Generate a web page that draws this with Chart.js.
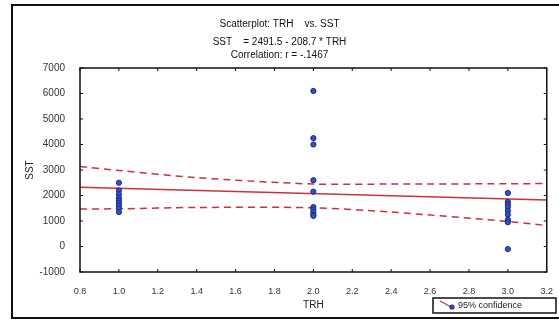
<!DOCTYPE html>
<html>
<head>
<meta charset="utf-8">
<script src="https://cdn.jsdelivr.net/npm/chart.js@4"></script>
<style>
  html, body { margin: 0; padding: 0; background: #fff; }
  canvas { display: block; }
</style>
</head>
<body>
<canvas id="scatterChart" width="559" height="321"></canvas>
<script>
const trhValues = [1.0, 1.0, 1.0, 1.0, 1.0, 1.0, 1.0, 1.0, 1.0,
                   2.0, 2.0, 2.0, 2.0, 2.0, 2.0, 2.0, 2.0, 2.0, 2.0,
                   3.0, 3.0, 3.0, 3.0, 3.0, 3.0, 3.0, 3.0, 3.0];
const sstValues = [2500, 2200, 2050, 1900, 1800, 1700, 1600, 1500, 1350,
                   6100, 4250, 4000, 2600, 2150, 1550, 1450, 1350, 1250, 1200,
                   2100, 1750, 1650, 1550, 1400, 1250, 1050, 950, -100];

// fitted line: SST = 2491.5 - 208.7 * TRH
const fitX = [0.8, 3.2];
const fitY = [2325, 1824];

// 95% confidence bands
const bandX = [0.8, 1.0, 1.4, 2.0, 2.4, 3.0, 3.2];
const upperBand = [3140, 2980, 2700, 2450, 2450, 2460, 2470];
const lowerBand = [1470, 1480, 1530, 1520, 1350, 980, 820];

const titleText = 'Scatterplot: TRH    vs. SST';
const subtitleLines = ['SST    = 2491.5 - 208.7 * TRH', 'Correlation: r = -.1467'];
const legendText = '95% confidence';

const FONT = "'Liberation Sans', Arial, sans-serif";
const RED = '#c8323c';
const zip = (xs, ys) => xs.map((x, i) => ({ x, y: ys[i] }));

// frame, plot box, inner tick marks and legend box
const framePlugin = {
    id: 'frame',
    afterDraw(chart) {
        const { ctx, chartArea: a, scales } = chart;
        ctx.save();
        ctx.strokeStyle = '#111';
        ctx.lineWidth = 2;
        ctx.strokeRect(12, 5, 600, 313);

        ctx.lineWidth = 1.5;
        ctx.strokeRect(a.left, a.top, a.right - a.left, a.bottom - a.top);

        ctx.lineWidth = 1;
        ctx.beginPath();
        scales.x.ticks.forEach(t => {
            const px = scales.x.getPixelForValue(t.value);
            ctx.moveTo(px, a.bottom); ctx.lineTo(px, a.bottom - 3);
            ctx.moveTo(px, a.top); ctx.lineTo(px, a.top + 3);
        });
        scales.y.ticks.forEach(t => {
            const py = scales.y.getPixelForValue(t.value);
            ctx.moveTo(a.left, py); ctx.lineTo(a.left + 3, py);
            ctx.moveTo(a.right, py); ctx.lineTo(a.right - 3, py);
        });
        ctx.stroke();

        // legend
        const lx = 433, ly = 298, lw = 123, lh = 15;
        ctx.lineWidth = 1.5;
        ctx.strokeStyle = '#111';
        ctx.strokeRect(lx, ly, lw, lh);
        ctx.strokeStyle = RED;
        ctx.lineWidth = 1.2;
        ctx.beginPath();
        ctx.moveTo(lx + 7, ly + 3);
        ctx.lineTo(lx + 20, ly + 10);
        ctx.stroke();
        ctx.fillStyle = '#3050d0';
        ctx.strokeStyle = '#1c2a8a';
        ctx.beginPath();
        ctx.arc(lx + 19, ly + 9, 2, 0, Math.PI * 2);
        ctx.fill(); ctx.stroke();
        ctx.fillStyle = '#222';
        ctx.font = '9px ' + FONT;
        ctx.textBaseline = 'middle';
        ctx.fillText(legendText, lx + 25, ly + lh / 2 + 0.5);
        ctx.restore();
    }
};

const ctx = document.getElementById('scatterChart').getContext('2d');
new Chart(ctx, {
    type: 'scatter',
    data: {
        datasets: [
            {
                label: 'SST',
                data: zip(trhValues, sstValues),
                pointRadius: 2.6,
                backgroundColor: '#3050d0',
                borderColor: '#1c2a8a',
                borderWidth: 1
            },
            {
                label: 'fit',
                type: 'line',
                data: zip(fitX, fitY),
                borderColor: RED,
                borderWidth: 1.5,
                pointRadius: 0,
                fill: false
            },
            {
                label: 'upper',
                type: 'line',
                data: zip(bandX, upperBand),
                borderColor: RED,
                borderWidth: 1.5,
                borderDash: [7, 5],
                pointRadius: 0,
                tension: 0.3,
                fill: false
            },
            {
                label: 'lower',
                type: 'line',
                data: zip(bandX, lowerBand),
                borderColor: RED,
                borderWidth: 1.5,
                borderDash: [7, 5],
                pointRadius: 0,
                tension: 0.3,
                fill: false
            }
        ]
    },
    options: {
        responsive: false,
        animation: false,
        layout: { padding: { left: 8, right: 8, top: 0, bottom: 0 } },
        plugins: {
            legend: { display: false },
            tooltip: { enabled: false },
            title: {
                display: true,
                text: titleText,
                color: '#111',
                font: { family: FONT, size: 10, weight: 'normal', lineHeight: 1.2 },
                padding: { top: 18, bottom: 0 }
            },
            subtitle: {
                display: true,
                text: subtitleLines,
                color: '#111',
                font: { family: FONT, size: 10, weight: 'normal', lineHeight: 1.3 },
                padding: { top: 5.5, bottom: 6.5 }
            }
        },
        scales: {
            x: {
                type: 'linear',
                min: 0.8,
                max: 3.2,
                afterFit: s => { s.height = 49; },
                grid: { display: false },
                border: { display: false },
                ticks: {
                    stepSize: 0.2,
                    padding: 6,
                    color: '#333',
                    font: { family: FONT, size: 9 },
                    maxRotation: 0,
                    callback: v => Number(v).toFixed(1)
                },
                title: {
                    display: true,
                    text: 'TRH',
                    color: '#222',
                    font: { family: FONT, size: 10 },
                    padding: { top: 0, bottom: 10 }
                }
            },
            y: {
                min: -1000,
                max: 7000,
                afterFit: s => { s.width = 72; },
                grid: { display: false },
                border: { display: false },
                ticks: {
                    stepSize: 1000,
                    padding: 7,
                    color: '#333',
                    font: { family: FONT, size: 10 },
                    callback: v => String(v)
                },
                title: {
                    display: true,
                    text: 'SST',
                    color: '#222',
                    font: { family: FONT, size: 10 },
                    padding: { top: 16, bottom: 0 }
                }
            }
        }
    },
    plugins: [framePlugin]
});
</script>
</body>
</html>
